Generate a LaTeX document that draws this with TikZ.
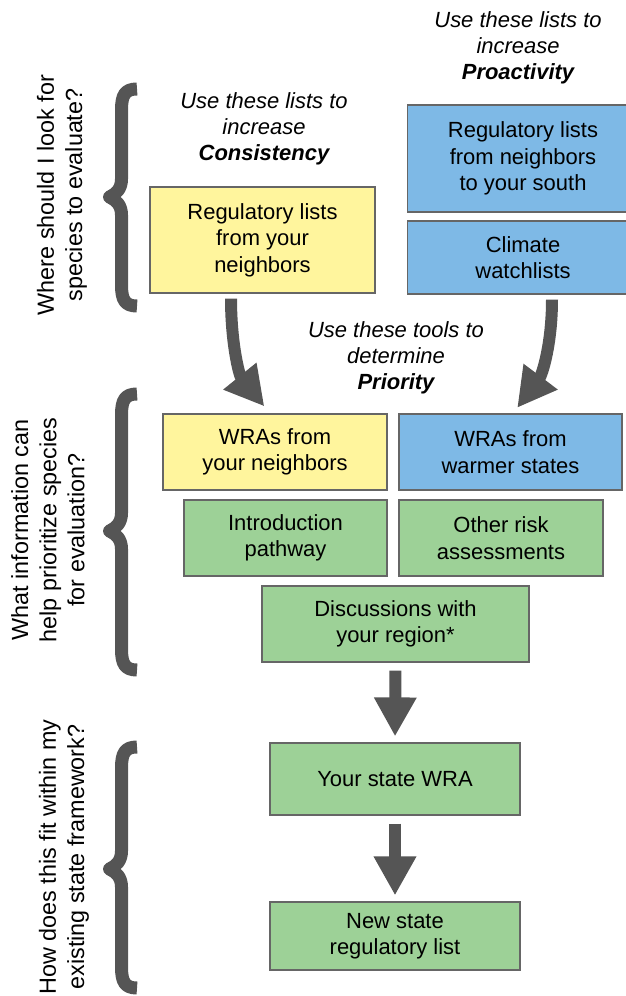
\documentclass[tikz,border=0pt]{standalone}
\usepackage{fontspec}
\setmainfont{Liberation Sans}
\usetikzlibrary{arrows.meta}

\definecolor{listyellow}{RGB}{255,245,157}
\definecolor{listblue}{RGB}{126,185,230}
\definecolor{toolgreen}{RGB}{157,209,151}
\definecolor{edgegray}{RGB}{102,102,102}
\definecolor{arrowgray}{RGB}{85,85,85}

\tikzset{
  box/.style={draw=edgegray, line width=0.7pt, align=center, inner sep=0pt,
    font=\fontsize{12.5}{15.1}\selectfont},
  yellowbox/.style={box, fill=listyellow},
  bluebox/.style={box, fill=listblue},
  greenbox/.style={box, fill=toolgreen},
  hint/.style={align=center, font=\fontsize{12.5}{14.8}\selectfont\itshape},
  question/.style={align=center, rotate=90, font=\fontsize{13.3}{16}\selectfont},
  fatarrow/.style={draw=arrowgray, line width=0.24cm,
    -{Triangle[width=0.8cm,length=0.78cm]}},
  bracestroke/.style={draw=arrowgray, line width=0.26cm, line join=round}
}

\begin{document}
\begin{tikzpicture}[x=0.02cm, y=-0.02cm]
                \useasboundingbox (0, 0) rectangle (625, 996);

                % questions on the left
                \node[question] (qlook) at (62, 195) {Where should I look for\\species to evaluate?};
                \node[question] (qinfo) at (48, 530) {What information can\\help prioritize species\\for evaluation?};
                \node[question] (qfit) at (64, 857) {How does this fit within my\\existing state framework?};

                \draw[bracestroke](137, 89) .. controls (125, 89) and (121.5, 95) .. (121.5, 110) -- (121.5, 179)
                    .. controls (121.5, 189) and (116, 194) .. (109.5, 197)
                    .. controls (116, 200) and (121.5, 205) .. (121.5, 215) -- (121.5, 285)
                    .. controls (121.5, 300) and (125, 306) .. (137, 306);
                \draw[bracestroke](137, 394) .. controls (125, 394) and (121.5, 400) .. (121.5, 415) -- (121.5, 513)
                    .. controls (121.5, 523) and (116, 528) .. (109.5, 531)
                    .. controls (116, 534) and (121.5, 539) .. (121.5, 549) -- (121.5, 649)
                    .. controls (121.5, 664) and (125, 670) .. (137, 670);
                \draw[bracestroke](137, 747) .. controls (125, 747) and (121.5, 753) .. (121.5, 768) -- (121.5, 851)
                    .. controls (121.5, 861) and (116, 866) .. (109.5, 869)
                    .. controls (116, 872) and (121.5, 877) .. (121.5, 887) -- (121.5, 967)
                    .. controls (121.5, 982) and (125, 988) .. (137, 988);

                % lists
                \node[hint] (hproact) at (518, 48) {Use these lists to\\increase\\\textbf{Proactivity}};
                \node[hint] (hconsist) at (264, 129) {Use these lists to\\increase\\\textbf{Consistency}};

                \node[bluebox, minimum width=4.62cm, minimum height=2.14cm] (regsouth) at (523, 158.5) {Regulatory lists\\from neighbors\\to your south};
                \node[bluebox, minimum width=4.62cm, minimum height=1.46cm] (climate) at (523, 257.5) {Climate\\watchlists};
                \node[yellowbox, minimum width=4.5cm, minimum height=2.12cm] (regnb) at (262.5, 240) {Regulatory lists\\from your\\neighbors};

                % tools
                \node[hint] (hprio) at (396, 358) {Use these tools to\\determine\\\textbf{Priority}};

                \node[yellowbox, minimum width=4.48cm, minimum height=1.52cm] (wranb) at (275, 452) {WRAs from\\your neighbors};
                \node[bluebox, minimum width=4.46cm, minimum height=1.52cm] (wrawarm) at (510.5, 452) {WRAs from\\warmer states};
                \node[greenbox, minimum width=4.06cm, minimum height=1.52cm] (intro) at (285.5, 538) {Introduction\\pathway};
                \node[greenbox, minimum width=4.08cm, minimum height=1.52cm] (otherrisk) at (501, 538) {Other risk\\assessments};
                \node[greenbox, minimum width=5.34cm, minimum height=1.52cm] (discuss) at (395.5, 624) {Discussions with\\your region*};

                % state framework
                \node[greenbox, minimum width=5cm, minimum height=1.44cm] (statewra) at (395, 779) {Your state WRA};
                \node[greenbox, minimum width=5cm, minimum height=1.36cm] (newlist) at (395, 936) {New state\\regulatory list};

                \draw[fatarrow, shorten <=0.1cm, shorten >=0.18cm]([xshift=-0.63cm]regnb.south) to[out=-90, in=129] ([xshift=-0.1cm]wranb.north);
                \draw[fatarrow, shorten <=0.1cm, shorten >=0.14cm]([xshift=0.58cm]climate.south) to[out=-90, in=53] ([xshift=0.05cm]wrawarm.north);

                \draw[fatarrow, shorten <=0.16cm, shorten >=0.12cm](discuss.south) -- (statewra.north);
                \draw[fatarrow, shorten <=0.16cm, shorten >=0.12cm](statewra.south) -- (newlist.north);
\end{tikzpicture}
\end{document}
